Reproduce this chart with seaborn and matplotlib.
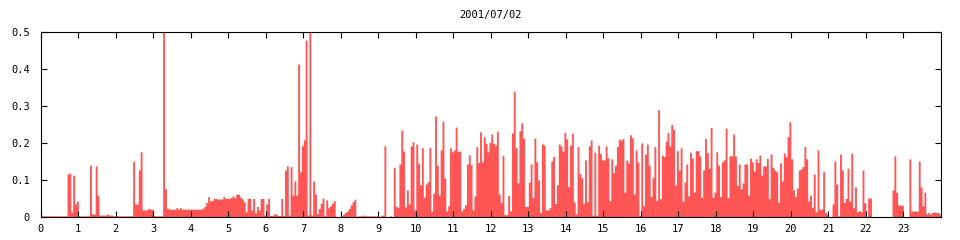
import numpy as np
import pandas as pd
import matplotlib
matplotlib.use("Agg")
import matplotlib.pyplot as plt
import seaborn as sns

# ---- data: 3-minute samples (20 per hour) ----
h00 = [0.004, 0.004, 0.004, 0.004, 0.004, 0.004, 0.004, 0.004, 0.004, 0.004, 0.004, 0.004, 0.004, 0.004, 0.117, 0.119, 0.014, 0.114, 0.036, 0.044]
h01 = [0.004, 0.004, 0.004, 0.004, 0.004, 0.004, 0.141, 0.010, 0.008, 0.139, 0.060, 0.006, 0.006, 0.006, 0.006, 0.009, 0.006, 0.006, 0.005, 0.004]
h02 = [0.004, 0.004, 0.004, 0.004, 0.004, 0.004, 0.004, 0.004, 0.004, 0.152, 0.036, 0.036, 0.128, 0.177, 0.020, 0.020, 0.020, 0.024, 0.022, 0.022]
h03 = [0.004, 0.004, 0.004, 0.004, 0.004, 0.600, 0.077, 0.025, 0.022, 0.022, 0.022, 0.022, 0.026, 0.022, 0.026, 0.022, 0.022, 0.022, 0.022, 0.022]
h04 = [0.022, 0.022, 0.022, 0.022, 0.022, 0.022, 0.025, 0.030, 0.040, 0.056, 0.044, 0.046, 0.051, 0.051, 0.049, 0.050, 0.049, 0.056, 0.051, 0.051]
h05 = [0.051, 0.053, 0.058, 0.053, 0.063, 0.062, 0.055, 0.050, 0.042, 0.015, 0.051, 0.051, 0.020, 0.051, 0.012, 0.029, 0.020, 0.051, 0.051, 0.006]
h06 = [0.036, 0.051, 0.005, 0.005, 0.009, 0.009, 0.005, 0.005, 0.051, 0.005, 0.128, 0.139, 0.006, 0.137, 0.060, 0.098, 0.060, 0.414, 0.123, 0.193]
h07 = [0.209, 0.479, 0.006, 0.600, 0.006, 0.098, 0.063, 0.010, 0.024, 0.038, 0.052, 0.004, 0.047, 0.026, 0.031, 0.038, 0.045, 0.003, 0.002, 0.002]
h08 = [0.004, 0.009, 0.013, 0.017, 0.024, 0.033, 0.042, 0.049, 0.003, 0.004, 0.004, 0.004, 0.006, 0.004, 0.004, 0.004, 0.004, 0.004, 0.004, 0.004]
h09 = [0.002, 0.004, 0.006, 0.193, 0.002, 0.002, 0.004, 0.002, 0.135, 0.030, 0.027, 0.144, 0.236, 0.179, 0.028, 0.074, 0.036, 0.193, 0.204, 0.020]
h10 = [0.198, 0.146, 0.088, 0.188, 0.054, 0.090, 0.096, 0.189, 0.017, 0.065, 0.274, 0.141, 0.060, 0.182, 0.260, 0.106, 0.017, 0.031, 0.188, 0.177]
h11 = [0.182, 0.244, 0.178, 0.179, 0.017, 0.024, 0.034, 0.144, 0.169, 0.142, 0.020, 0.058, 0.191, 0.148, 0.231, 0.150, 0.218, 0.200, 0.177, 0.202]
h12 = [0.225, 0.200, 0.195, 0.233, 0.063, 0.040, 0.168, 0.007, 0.007, 0.059, 0.017, 0.228, 0.341, 0.188, 0.093, 0.234, 0.255, 0.214, 0.029, 0.029]
h13 = [0.095, 0.144, 0.053, 0.214, 0.150, 0.101, 0.013, 0.198, 0.195, 0.020, 0.020, 0.026, 0.152, 0.164, 0.037, 0.088, 0.198, 0.193, 0.178, 0.230]
h14 = [0.212, 0.083, 0.195, 0.227, 0.042, 0.009, 0.191, 0.118, 0.107, 0.038, 0.155, 0.042, 0.193, 0.209, 0.005, 0.176, 0.005, 0.195, 0.172, 0.155]
h15 = [0.155, 0.193, 0.161, 0.045, 0.158, 0.120, 0.141, 0.191, 0.211, 0.209, 0.213, 0.068, 0.155, 0.146, 0.223, 0.215, 0.063, 0.182, 0.150, 0.005]
h16 = [0.201, 0.031, 0.171, 0.198, 0.141, 0.056, 0.107, 0.191, 0.045, 0.291, 0.050, 0.168, 0.164, 0.206, 0.229, 0.193, 0.251, 0.238, 0.087, 0.180]
h17 = [0.128, 0.188, 0.043, 0.095, 0.144, 0.058, 0.176, 0.160, 0.068, 0.180, 0.180, 0.166, 0.054, 0.128, 0.213, 0.175, 0.133, 0.243, 0.054, 0.068]
h18 = [0.177, 0.141, 0.056, 0.150, 0.155, 0.241, 0.053, 0.166, 0.166, 0.225, 0.166, 0.086, 0.144, 0.077, 0.093, 0.144, 0.144, 0.060, 0.160, 0.150]
h19 = [0.125, 0.158, 0.148, 0.168, 0.114, 0.139, 0.139, 0.159, 0.050, 0.171, 0.135, 0.128, 0.123, 0.041, 0.147, 0.098, 0.174, 0.164, 0.218, 0.258]
h20 = [0.158, 0.074, 0.056, 0.079, 0.128, 0.131, 0.137, 0.191, 0.158, 0.044, 0.060, 0.027, 0.117, 0.015, 0.182, 0.022, 0.022, 0.124, 0.013, 0.008]
h21 = [0.002, 0.002, 0.036, 0.152, 0.090, 0.004, 0.171, 0.128, 0.040, 0.051, 0.133, 0.044, 0.174, 0.026, 0.082, 0.015, 0.018, 0.015, 0.128, 0.039]
h22 = [0.002, 0.052, 0.052, 0.002, 0.002, 0.002, 0.002, 0.002, 0.002, 0.002, 0.002, 0.002, 0.002, 0.002, 0.074, 0.166, 0.068, 0.033, 0.033, 0.033]
h23 = [0.002, 0.002, 0.002, 0.158, 0.017, 0.017, 0.017, 0.017, 0.152, 0.082, 0.031, 0.068, 0.009, 0.013, 0.009, 0.013, 0.014, 0.013, 0.013, 0.009]

hours = [h00, h01, h02, h03, h04, h05, h06, h07, h08, h09, h10, h11,
         h12, h13, h14, h15, h16, h17, h18, h19, h20, h21, h22, h23]
x_tick_labels = [str(i) for i in range(24)]
y_tick_labels = ["0", "0.1", "0.2", "0.3", "0.4", "0.5"]
title = "2001/07/02"

# build a long table: time (hour of day) and value
rows = []
for hr, vals in enumerate(hours):
    n = len(vals)
    for j, v in enumerate(vals):
        rows.append((hr + (j + 0.5) / n, v))
df = pd.DataFrame(rows, columns=["time", "value"])
n_bins = 24 * len(h00)

sns.set_style("ticks")
plt.rcParams["font.family"] = ["DejaVu Sans Mono", "DejaVu Sans"]

fig = plt.figure(figsize=(9.6, 2.4), dpi=100)
ax = fig.add_axes([40.8 / 960, 1 - 217.3 / 240, 900 / 960, (217.3 - 32.3) / 240])

sns.histplot(data=df, x="time", weights="value", bins=n_bins, binrange=(0, 24),
             element="step", fill=True, color="#ff5555", alpha=1.0,
             linewidth=0, ax=ax)

ax.set_xlim(0, 24)
ax.set_ylim(0, 0.5)
ax.set_xlabel("")
ax.set_ylabel("")
ax.set_xticks(range(24))
ax.set_xticklabels(x_tick_labels)
ax.set_yticks([0, 0.1, 0.2, 0.3, 0.4, 0.5])
ax.set_yticklabels(y_tick_labels)
ax.xaxis.set_minor_locator(matplotlib.ticker.NullLocator())
ax.tick_params(axis="both", which="major", direction="in", length=4,
               width=0.8, colors="black", labelsize=7.5,
               top=True, right=True)
ax.tick_params(axis="x", pad=5)
ax.tick_params(axis="y", pad=8)
for s in ax.spines.values():
    s.set_visible(True)
    s.set_color("black")
    s.set_linewidth(0.8)
ax.set_axisbelow(False)

fig.text(490.8 / 960, 1 - 15 / 240, title, ha="center", va="center",
         fontsize=7.5, color="black")

fig.savefig("out.png", dpi=100, facecolor="white")
